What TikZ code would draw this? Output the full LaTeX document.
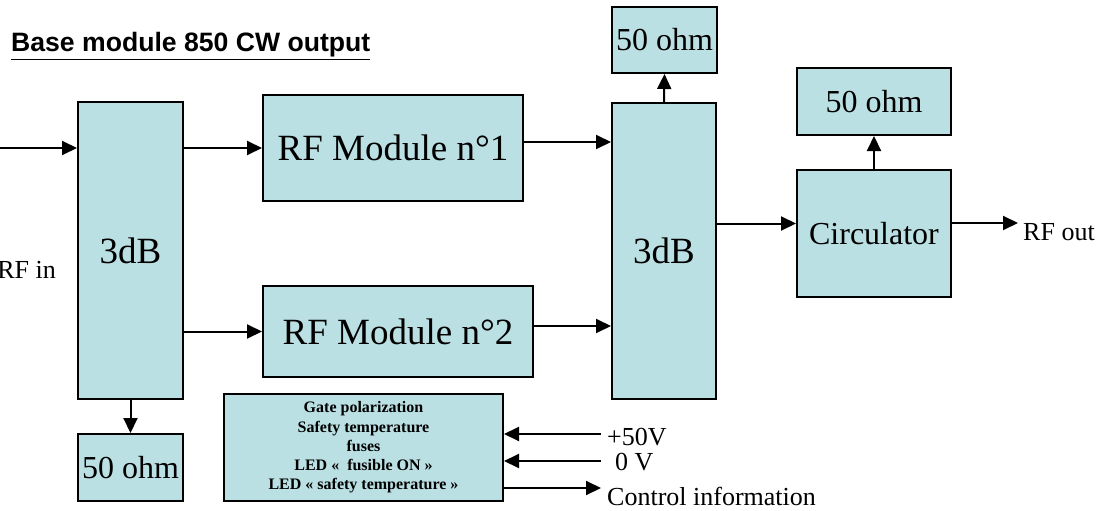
\documentclass[tikz,border=0pt]{standalone}
\usepackage{fontspec}
\setmainfont{Liberation Serif}
\setsansfont{Liberation Sans}
\usepackage{tikz}
\usetikzlibrary{arrows.meta, positioning, calc}
\definecolor{boxfill}{HTML}{BBE0E3}

\begin{document}
\begin{tikzpicture}[x=1pt, y=-1pt,
    blk/.style={draw, fill=boxfill, line width=2pt, inner sep=0pt,
                font=\fontsize{37}{40}\selectfont},
    load/.style={blk, font=\fontsize{32}{36}\selectfont},
    lbl/.style={inner sep=0pt, font=\fontsize{26}{30}\selectfont},
    arr/.style={-{Triangle[length=15pt, width=14pt]}, line width=2pt}
  ]
    \useasboundingbox (0,0) rectangle (1097,511);
    \node[lbl, anchor=base west, font=\sffamily\bfseries\fontsize{26.6}{30}\selectfont]
      (title) at (11,52) {\underline{Base module 850 CW output}};

    \node[blk, minimum width=105pt, minimum height=297pt] (hyb1) at (130.5,250.5) {3dB};
    \node[blk, minimum width=260pt, minimum height=106pt] (mod1) at (393,148) {RF Module n°1};
    \node[blk, minimum width=270pt, minimum height=91pt]  (mod2) at (398,331.5) {RF Module n°2};
    \node[blk, minimum width=104pt, minimum height=296pt] (hyb2) at (664,251) {3dB};
    \node[load, minimum width=105pt, minimum height=66pt] (loadA) at (664.5,40) {50 ohm};
    \node[load, minimum width=105pt, minimum height=67pt] (loadB) at (130.5,467.5) {50 ohm};
    \node[load, minimum width=154pt, minimum height=127pt] (circ) at (874,233.5) {Circulator};
    \node[load, minimum width=154pt, minimum height=67pt] (loadC) at (874,101.5) {50 ohm};
    \node[blk, minimum width=279pt, minimum height=107pt, align=center,
          font=\bfseries\fontsize{16}{19.3}\selectfont] (ctrl) at (363.5,447.5)
      {Gate polarization\\ Safety temperature\\ fuses\\ LED «\ \ fusible ON »\\ LED « safety temperature »};

    \coordinate (rfin) at (0,148);
    \coordinate (rfout) at (1018,223);
    \coordinate (vplus) at (601,434);
    \coordinate (vzero) at (601,461);
    \coordinate (cinfo) at (601,488);

    \node[lbl, anchor=east] (inlbl) at (56,270) {RF in};
    \node[lbl, anchor=west] (outlbl) at (1023,232) {RF out};
    \node[lbl, anchor=west] (pluslbl) at (607,437) {+50V};
    \node[lbl, anchor=west] (zerolbl) at (615,462) {0 V};
    \node[lbl, anchor=west] (infolbl) at (607,496) {Control information};

    \draw[arr] (rfin) -- (rfin -| hyb1.west);
    \draw[arr] (hyb1.east |- mod1.west) -- (mod1.west);
    \draw[arr] (hyb1.east |- mod2.west) -- (mod2.west);
    \draw[arr] ([yshift=6pt]mod1.east) -- ([yshift=6pt]mod1.east -| hyb2.west);
    \draw[arr] ([yshift=5.5pt]mod2.east) -- ([yshift=5.5pt]mod2.east -| hyb2.west);
    \draw[arr] (hyb2.north) -- (loadA.south);
    \draw[arr] (hyb1.south) -- (loadB.north);
    \draw[arr] ([yshift=10pt]circ.west -| hyb2.east) -- ([yshift=10pt]circ.west);
    \draw[arr] (circ.north) -- (loadC.south);
    \draw[arr] (circ.east |- rfout) -- (rfout);
    \draw[arr] (vplus) -- (vplus -| ctrl.east);
    \draw[arr] (vzero) -- (vzero -| ctrl.east);
    \draw[arr] (ctrl.east |- cinfo) -- (cinfo);
  \end{tikzpicture}
\end{document}
